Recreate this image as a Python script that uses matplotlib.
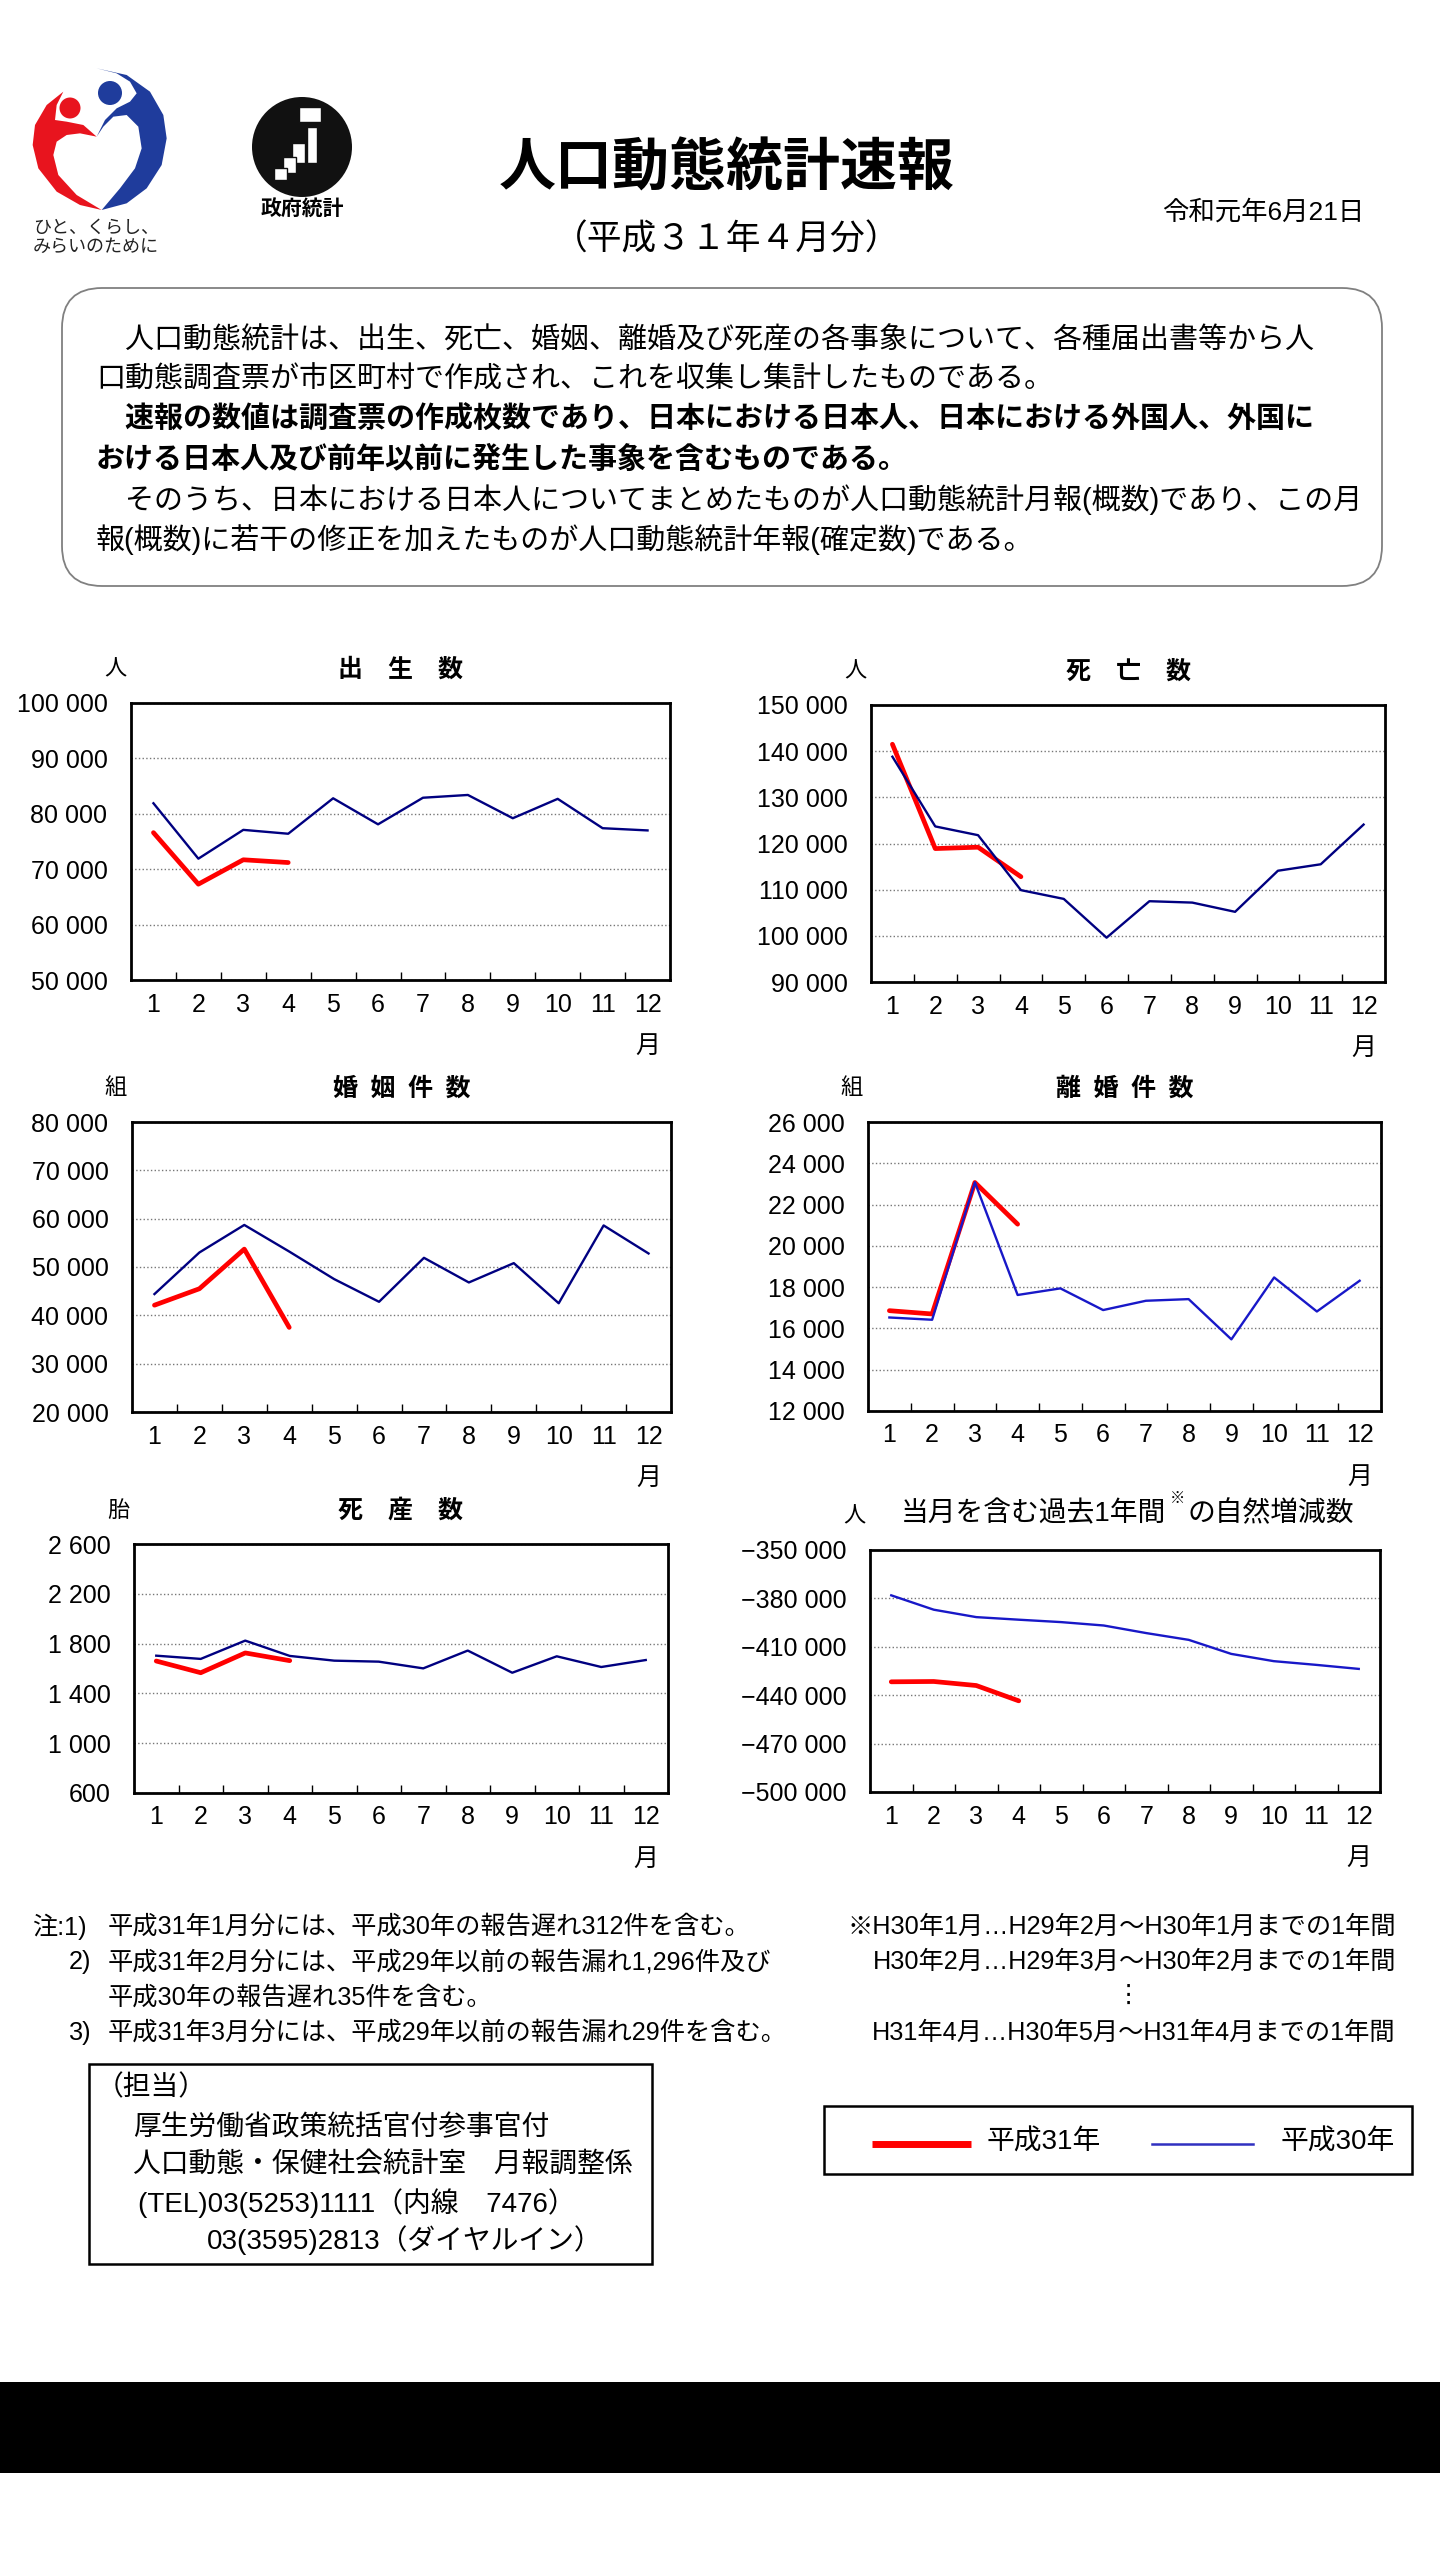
#!/usr/bin/env python3
"""人口動態統計速報 (平成31年4月分) — six monthly charts on one page."""

import matplotlib
matplotlib.use("Agg")

import matplotlib.pyplot as plt
import numpy as np
from matplotlib.patches import Circle, FancyBboxPatch, Polygon, Rectangle
from matplotlib.ticker import FuncFormatter

W, H = 1440, 2560

plt.rcParams["font.family"] = ["Liberation Sans", "Noto Sans CJK JP", "DejaVu Sans"]

# ---- data ----
MONTHS = list(range(1, 13))
MONTH_LABELS = [str(m) for m in MONTHS]

births_h30 = [81900, 71900, 77100, 76400, 82800, 78100, 82900, 83400, 79200, 82700, 77400, 77000]
births_h31 = [76600, 67300, 71700, 71200]

deaths_h30 = [138800, 123700, 121800, 109900, 108000, 99600, 107500, 107200, 105200, 114100, 115500, 124100]
deaths_h31 = [141500, 118900, 119200, 112800]

marriages_h30 = [44400, 53000, 58700, 53200, 47500, 42800, 51900, 46800, 50800, 42500, 58600, 52800]
marriages_h31 = [42100, 45500, 53700, 37500]

divorces_h30 = [16530, 16420, 23080, 17620, 17940, 16890, 17340, 17420, 15470, 18470, 16820, 18310]
divorces_h31 = [16860, 16700, 23070, 21050]

stillbirths_h30 = [1703, 1677, 1824, 1701, 1663, 1655, 1601, 1744, 1566, 1698, 1612, 1668]
stillbirths_h31 = [1660, 1566, 1725, 1663]

natural_h30 = [-378100, -387000, -391600, -393200, -394700, -396800,
               -401500, -405700, -414400, -418900, -421200, -423700]
natural_h31 = [-431700, -431500, -434000, -443500]

RED = "#FF0000"
NAVY = "#000080"
BLUE = "#1818C8"


def fmt_thousands(v, pos):
    s = f"{abs(int(round(v))):,}".replace(",", " ")
    return ("\u2212" if v < 0 else "") + s


def chart(fig, box, h30, h31, lo, hi, step, title, unit, blue):
    l, t, r, b = box
    ax = fig.add_axes([l / W, 1 - b / H, (r - l) / W, (b - t) / H])
    ax.plot(MONTHS[:len(h31)], h31, color=RED, lw=3.4, solid_capstyle="round",
            solid_joinstyle="round", zorder=3)
    ax.plot(MONTHS, h30, color=blue, lw=1.7, zorder=4)
    ax.set_xlim(0.5, 12.5)
    ax.set_ylim(lo, hi)
    ax.set_xticks(MONTHS)
    ax.set_xticklabels(MONTH_LABELS)
    ax.set_xticks(np.arange(1.5, 12, 1), minor=True)
    ax.set_yticks(np.arange(lo, hi + step / 2, step))
    ax.yaxis.set_major_formatter(FuncFormatter(fmt_thousands))
    ax.tick_params(axis="x", which="major", length=0, pad=9, labelsize=18)
    ax.tick_params(axis="x", which="minor", direction="in", length=6, width=1)
    ax.tick_params(axis="y", length=0, pad=17, labelsize=18)
    ax.grid(axis="y", linestyle=":", color="#777777", lw=1)
    for s in ax.spines.values():
        s.set_linewidth(2)
        s.set_color("black")
    hpx = b - t
    ax.text(12, -66 / hpx, "月", transform=ax.get_xaxis_transform(),
            ha="center", va="center", fontsize=18)
    if title:
        ax.text(0.5, 1 + 33 / hpx, title, transform=ax.transAxes,
                ha="center", va="center", fontsize=18, fontweight="bold")
    ax.text(-16 / (r - l), 1 + 33 / hpx, unit, transform=ax.transAxes,
            ha="center", va="center", fontsize=16)
    return ax


def draw_logos(bg):
    # heart-shaped mark (red and blue figures); outline in 3x crop units
    blue_pts = [(230, 40), (320, 60), (390, 110), (430, 180), (440, 250), (425, 330),
                (380, 400), (320, 445), (245, 465), (300, 400), (345, 340), (365, 280),
                (355, 215), (320, 180), (280, 185), (250, 215), (230, 245), (255, 195),
                (290, 160), (330, 140), (350, 115), (330, 80), (290, 55)]
    red_pts = [(130, 110), (80, 150), (45, 210), (38, 270), (55, 340), (110, 410),
               (180, 450), (245, 465), (170, 420), (115, 360), (100, 300), (110, 260),
               (140, 240), (180, 235), (230, 245), (190, 210), (140, 200), (105, 195),
               (110, 150)]
    conv = lambda p: [(x / 3 + 20, y / 3 + 55) for x, y in p]
    bg.add_patch(Polygon(conv(blue_pts), closed=True, fc="#1F3C9C", ec="none"))
    bg.add_patch(Polygon(conv(red_pts), closed=True, fc="#E8141E", ec="none"))
    bg.add_patch(Circle((110, 93), 12, fc="#1F3C9C", ec="none"))
    bg.add_patch(Circle((70, 108), 10.5, fc="#E8141E", ec="none"))
    bg.text(33, 228, "ひと、くらし、", fontsize=13, ha="left", va="center", color="#222222")
    bg.text(33, 247, "みらいのために", fontsize=13, ha="left", va="center", color="#222222")

    # government statistics mark
    bg.add_patch(Circle((302, 147), 50, fc="#111111", ec="none"))
    for x, y, w, h in [(838, 155, 65, 45), (862, 215, 28, 110), (815, 265, 40, 60),
                       (788, 305, 40, 50), (762, 340, 40, 35)]:
        bg.add_patch(Rectangle((x / 3 + 20, y / 3 + 55), w / 3, h / 3, fc="white", ec="#111111", lw=1))
    bg.text(302, 209, "政府統計", fontsize=15, fontweight="bold", ha="center", va="center")


def main():
    fig = plt.figure(figsize=(W / 100, H / 100), dpi=100)
    bg = fig.add_axes([0, 0, 1, 1])
    bg.set_xlim(0, W)
    bg.set_ylim(H, 0)
    bg.axis("off")

    draw_logos(bg)

    # header
    bg.text(727, 170, "人口動態統計速報", fontsize=41, fontweight="bold", ha="center", va="center")
    bg.text(727, 240, "（平成３１年４月分）", fontsize=25, ha="center", va="center")
    bg.text(1364, 212, "令和元年6月21日", fontsize=19, ha="right", va="center")

    # explanation box
    bg.add_patch(FancyBboxPatch((62, 288), 1320, 298, boxstyle="round,pad=0,rounding_size=40",
                                fc="white", ec="#808080", lw=1.3))
    body = [
        ("　人口動態統計は、出生、死亡、婚姻、離婚及び死産の各事象について、各種届出書等から人", "normal"),
        ("口動態調査票が市区町村で作成され、これを収集し集計したものである。", "normal"),
        ("　速報の数値は調査票の作成枚数であり、日本における日本人、日本における外国人、外国に", "bold"),
        ("おける日本人及び前年以前に発生した事象を含むものである。", "bold"),
        ("　そのうち、日本における日本人についてまとめたものが人口動態統計月報(概数)であり、この月", "normal"),
        ("報(概数)に若干の修正を加えたものが人口動態統計年報(確定数)である。", "normal"),
    ]
    for i, (line, weight) in enumerate(body):
        bg.text(96, 340 + i * 40, line, fontsize=20.9, fontweight=weight, ha="left", va="center")

    # charts
    chart(fig, (131, 703, 670, 980), births_h30, births_h31, 50000, 100000, 10000,
          "出　生　数", "人", NAVY)
    chart(fig, (871, 705, 1385, 982), deaths_h30, deaths_h31, 90000, 150000, 10000,
          "死　亡　数", "人", NAVY)
    chart(fig, (132, 1122, 671, 1412), marriages_h30, marriages_h31, 20000, 80000, 10000,
          "婚\u2002姻\u2002件\u2002数", "組", NAVY)
    chart(fig, (868, 1122, 1381, 1411), divorces_h30, divorces_h31, 12000, 26000, 2000,
          "離\u2002婚\u2002件\u2002数", "組", BLUE)
    chart(fig, (134, 1544, 668, 1793), stillbirths_h30, stillbirths_h31, 600, 2600, 400,
          "死　産　数", "胎", NAVY)
    chart(fig, (870, 1550, 1380, 1792), natural_h30, natural_h31, -500000, -350000, 30000,
          None, "人", BLUE)
    bg.text(1166, 1514, "当月を含む過去1年間", fontsize=20, ha="right", va="center")
    bg.text(1177, 1499, "※", fontsize=11, ha="center", va="center")
    bg.text(1188, 1514, "の自然増減数", fontsize=20, ha="left", va="center")

    # notes
    nfs = 18.2
    bg.text(32, 1927, "注:1)", fontsize=nfs, ha="left", va="center")
    bg.text(108, 1927, "平成31年1月分には、平成30年の報告遅れ312件を含む。", fontsize=nfs, va="center")
    bg.text(69, 1962, "2)", fontsize=nfs, ha="left", va="center")
    bg.text(108, 1962, "平成31年2月分には、平成29年以前の報告漏れ1,296件及び", fontsize=nfs, va="center")
    bg.text(108, 1998, "平成30年の報告遅れ35件を含む。", fontsize=nfs, va="center")
    bg.text(69, 2033, "3)", fontsize=nfs, ha="left", va="center")
    bg.text(108, 2033, "平成31年3月分には、平成29年以前の報告漏れ29件を含む。", fontsize=nfs, va="center")

    bg.text(1396, 1927, "※H30年1月…H29年2月～H30年1月までの1年間", fontsize=nfs, ha="right", va="center")
    bg.text(1396, 1962, "H30年2月…H29年3月～H30年2月までの1年間", fontsize=nfs, ha="right", va="center")
    bg.text(1128, 1995, "⋮", fontsize=nfs, ha="center", va="center")
    bg.text(1396, 2033, "H31年4月…H30年5月～H31年4月までの1年間", fontsize=nfs, ha="right", va="center")

    # contact box
    bg.add_patch(Rectangle((89, 2064), 563, 200, fc="none", ec="black", lw=1.8))
    cfs = 20
    bg.text(96, 2088, "（担当）", fontsize=cfs, va="center")
    bg.text(133, 2128, "厚生労働省政策統括官付参事官付", fontsize=cfs, va="center")
    bg.text(133, 2165, "人口動態・保健社会統計室　月報調整係", fontsize=cfs, va="center")
    bg.text(138, 2203, "(TEL)03(5253)1111（内線　7476）", fontsize=cfs, va="center")
    bg.text(207, 2240, "03(3595)2813（ダイヤルイン）", fontsize=cfs, va="center")

    # legend box
    bg.add_patch(Rectangle((824, 2106), 588, 68, fc="none", ec="black", lw=1.8))
    bg.plot([872, 971], [2144, 2144], color=RED, lw=5, solid_capstyle="butt")
    bg.text(987, 2143, "平成31年", fontsize=cfs, va="center")
    bg.plot([1152, 1253], [2144, 2144], color="#3030C0", lw=1.8)
    bg.text(1281, 2143, "平成30年", fontsize=cfs, va="center")

    # black band at the foot
    bg.add_patch(Rectangle((0, 2382), W, 91, fc="black", ec="none"))

    fig.savefig("out.png", dpi=100, facecolor="white")


if __name__ == "__main__":
    main()
